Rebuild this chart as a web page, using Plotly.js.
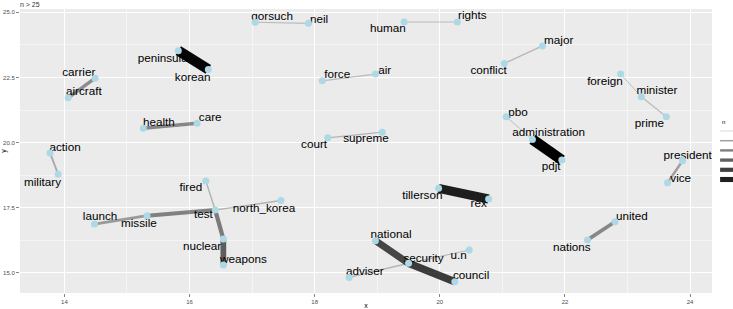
<!DOCTYPE html>
<html>
<head>
<meta charset="utf-8">
<script src="https://cdn.plot.ly/plotly-3.0.1.min.js"></script>
<style>html,body{margin:0;padding:0;background:#fff;}#chart{width:733px;height:309px;}</style>
</head>
<body>
<div id="chart"></div>
<script>
// Nodes (layout coordinates)
const nodeNames = ["peninsula","korean","carrier","aircraft","health","care","action","military","fired","test","launch","missile","nuclear","weapons","north_korea","gorsuch","neil","human","rights","force","air","court","supreme","tillerson","rex","national","security","council","adviser","u.n","major","conflict","foreign","minister","prime","pbo","administration","pdjt","president","vice","united","nations"];
const nodeX = [15.82,16.30,14.49,14.06,15.26,16.12,13.77,13.90,16.26,16.41,14.48,15.32,16.54,16.54,17.46,17.05,17.90,19.43,20.28,18.12,18.97,18.21,19.08,19.98,20.78,18.97,19.50,20.24,18.55,20.47,21.64,21.03,22.89,23.22,23.62,21.06,21.48,21.95,23.88,23.64,22.80,22.36];
const nodeY = [23.53,22.81,22.47,21.72,20.55,20.74,19.60,18.78,18.52,17.41,16.87,17.19,16.29,15.30,17.77,24.62,24.58,24.63,24.63,22.37,22.63,20.18,20.40,18.24,17.83,16.23,15.36,14.65,14.82,15.87,23.71,23.04,22.63,21.76,20.99,20.99,20.12,19.33,19.30,18.46,16.96,16.26];
// Repelled label positions
const labelX = [15.57,16.05,14.23,14.31,15.51,16.33,14.01,13.65,16.02,16.22,14.57,15.19,16.20,16.86,17.19,17.32,18.07,19.17,20.52,18.36,19.12,17.99,18.82,19.72,20.62,19.22,19.74,20.50,18.80,20.30,21.90,20.78,22.64,23.47,23.35,21.25,21.74,21.78,23.96,23.85,23.07,22.11];
const labelY = [23.20,22.49,22.68,21.93,20.76,20.93,19.80,18.46,18.26,17.20,17.15,16.87,16.00,15.49,17.45,24.81,24.70,24.35,24.86,22.58,22.73,19.90,20.12,17.96,17.64,16.44,15.53,14.87,15.02,15.64,23.91,22.75,22.31,21.98,20.70,21.12,20.35,19.07,19.48,18.60,17.15,15.94];

// Edges (bigrams) and counts n
const edgeFrom = ["peninsula","tillerson","administration","security","national","nuclear","test","missile","health","carrier","united","launch","president","action","gorsuch","human","force","supreme","conflict","foreign","prime","pbo","fired","test","adviser","u.n"];
const edgeTo   = ["korean","rex","pdjt","council","security","weapons","nuclear","test","care","aircraft","nations","missile","vice","military","neil","rights","air","court","major","minister","minister","administration","test","north_korea","security","security"];
const edgeN    = [88,80,90,70,66,58,48,46,44,42,44,38,36,32,27,27,27,29,28,26,27,26,29,29,29,27];

const legendN = [30,40,50,60,70,80];

const nMin = 26, nMax = 90;
function edgeAlpha(n){ return 0.2 + 0.8*(n-nMin)/(nMax-nMin); }
function edgeWidth(n){ return 1 + 9.5*(n-nMin)/(nMax-nMin); }

const traces = [];
// labels first (drawn under edges and nodes)
traces.push({
  type:'scatter', mode:'text', x:labelX, y:labelY, text:nodeNames, cliponaxis:false,
  textposition:'middle center', hoverinfo:'skip', showlegend:false,
  textfont:{family:'Liberation Sans, Arial, sans-serif', size:11.7, color:'#000000'}
});
const idx = {}; nodeNames.forEach((n,i)=>idx[n]=i);
for(let k=0;k<edgeFrom.length;k++){
  const a = idx[edgeFrom[k]], b = idx[edgeTo[k]];
  traces.push({
    type:'scatter', mode:'lines', x:[nodeX[a],nodeX[b]], y:[nodeY[a],nodeY[b]],
    line:{color:'rgba(0,0,0,'+edgeAlpha(edgeN[k]).toFixed(3)+')', width:edgeWidth(edgeN[k])},
    hoverinfo:'skip', showlegend:false
  });
}
traces.push({
  type:'scatter', mode:'markers', x:nodeX, y:nodeY, text:nodeNames,
  marker:{color:'#ADD8E6', size:7}, showlegend:false, hoverinfo:'text'
});

// legend keys (guide for n) drawn as shapes in the right margin
const shapes = [];
const keyTop = (293-131)/284, keyStep = 9.7/284;
legendN.forEach((n,i)=>{
  const yy = keyTop - i*keyStep;
  shapes.push({type:'line', xref:'paper', yref:'paper', x0:1.0117, x1:1.04, y0:yy, y1:yy,
    line:{color:'rgba(0,0,0,'+edgeAlpha(n).toFixed(3)+')', width:0.6+i*0.9}});
});

const layout = {
  width:733, height:309,
  margin:{l:20, r:21, t:9, b:16},
  paper_bgcolor:'#ffffff', plot_bgcolor:'#EBEBEB',
  font:{family:'Liberation Sans, Arial, sans-serif', color:'#4d4d4d'},
  title:{text:'n > 25', xref:'container', x:20/733, xanchor:'left', y:1-5/309, yanchor:'middle', font:{size:7, color:'#333333'}},
  xaxis:{range:[13.29,24.35], tickvals:[14,16,18,20,22,24], ticktext:['14','16','18','20','22','24'],
    showgrid:true, gridcolor:'#ffffff', gridwidth:1, zeroline:false, showline:false,
    ticks:'outside', ticklen:3, tickwidth:0.6, tickcolor:'#333333', tickfont:{size:6, color:'#4d4d4d'},
    minor:{tickvals:[15,17,19,21,23], showgrid:true, gridcolor:'#ffffff', gridwidth:0.5, ticks:''},
    title:{text:'x', font:{size:7, color:'#000000'}, standoff:1}},
  yaxis:{range:[14.22,25.13], tickvals:[15,17.5,20,22.5,25], ticktext:['15.0','17.5','20.0','22.5','25.0'],
    showgrid:true, gridcolor:'#ffffff', gridwidth:1, zeroline:false, showline:false,
    ticks:'outside', ticklen:3, tickwidth:0.6, tickcolor:'#333333', tickfont:{size:6, color:'#4d4d4d'},
    minor:{tickvals:[16.25,18.75,21.25,23.75], showgrid:true, gridcolor:'#ffffff', gridwidth:0.5, ticks:''},
    title:{text:'y', font:{size:7, color:'#000000'}, standoff:1}},
  shapes:shapes,
  annotations:[{text:'n', xref:'paper', yref:'paper', x:1.0117, y:(293-122)/284, xanchor:'left', yanchor:'middle', showarrow:false, font:{size:6, color:'#000000'}}],
  showlegend:false
};
Plotly.newPlot('chart', traces, layout, {staticPlot:true, displayModeBar:false});
</script>
</body>
</html>
